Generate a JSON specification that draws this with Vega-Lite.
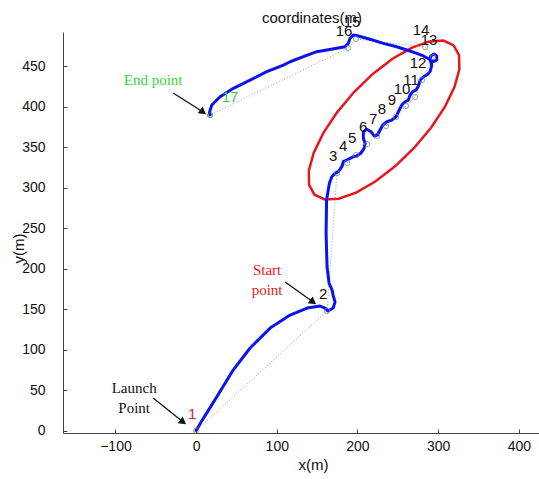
{
  "$schema": "https://vega.github.io/schema/vega-lite/v6.json",
  "width": 476,
  "height": 401,
  "autosize": {"type": "none"},
  "padding": {"left": 63, "top": 32, "right": 0, "bottom": 46},
  "background": "white",
  "title": {"text": "coordinates(m)", "anchor": "middle", "dx": 11, "dy": 20, "offset": 9, "font": "Liberation Sans", "fontSize": 15, "fontWeight": "normal", "color": "#111"},
  "config": {"view": {"stroke": null}},
  "datasets": {
    "traj": [
      {"i": 1, "x": 0, "y": 0}, {"i": 2, "x": 9.0, "y": 15.1}, {"i": 3, "x": 25.7, "y": 41.7}, {"i": 4, "x": 45.9, "y": 74.7},
      {"i": 5, "x": 66.9, "y": 101.9}, {"i": 6, "x": 91.7, "y": 126.5}, {"i": 7, "x": 116.5, "y": 142.6}, {"i": 8, "x": 137.6, "y": 151.2},
      {"i": 9, "x": 153.7, "y": 153.7}, {"i": 10, "x": 159.9, "y": 151.2}, {"i": 11, "x": 163.6, "y": 147.5}, {"i": 12, "x": 169.8, "y": 151.2},
      {"i": 13, "x": 172.2, "y": 158.6}, {"i": 14, "x": 169.8, "y": 167.3}, {"i": 15, "x": 168.5, "y": 173.5}, {"i": 16, "x": 164.8, "y": 182.1},
      {"i": 17, "x": 162.3, "y": 201.9}, {"i": 18, "x": 161.1, "y": 243.8}, {"i": 19, "x": 161.7, "y": 284.6}, {"i": 20, "x": 165.2, "y": 305.2},
      {"i": 21, "x": 168.2, "y": 313.3}, {"i": 22, "x": 172.2, "y": 317.5}, {"i": 23, "x": 176.3, "y": 319.5}, {"i": 24, "x": 180.6, "y": 325.7},
      {"i": 25, "x": 182.5, "y": 331.9}, {"i": 26, "x": 186.7, "y": 334.0}, {"i": 27, "x": 190.8, "y": 336.1}, {"i": 28, "x": 194.9, "y": 338.0},
      {"i": 29, "x": 199.1, "y": 338.9}, {"i": 30, "x": 204.1, "y": 342.2}, {"i": 31, "x": 208.2, "y": 348.4}, {"i": 32, "x": 209.4, "y": 354.6},
      {"i": 33, "x": 207.3, "y": 360.8}, {"i": 34, "x": 207.3, "y": 368.9}, {"i": 35, "x": 211.5, "y": 371.9}, {"i": 36, "x": 216.9, "y": 368.9},
      {"i": 37, "x": 220.6, "y": 363.6}, {"i": 38, "x": 224.7, "y": 364.8}, {"i": 39, "x": 228.0, "y": 371.0}, {"i": 40, "x": 231.4, "y": 377.2},
      {"i": 41, "x": 236.3, "y": 381.2}, {"i": 42, "x": 242.5, "y": 383.3}, {"i": 43, "x": 247.8, "y": 387.4}, {"i": 44, "x": 250.7, "y": 393.6},
      {"i": 45, "x": 254.9, "y": 401.9}, {"i": 46, "x": 259.0, "y": 405.9}, {"i": 47, "x": 263.1, "y": 408.0}, {"i": 48, "x": 265.2, "y": 414.2},
      {"i": 49, "x": 268.5, "y": 418.3}, {"i": 50, "x": 272.6, "y": 420.4}, {"i": 51, "x": 275.5, "y": 425.3}, {"i": 52, "x": 277.6, "y": 432.7},
      {"i": 53, "x": 281.7, "y": 436.8}, {"i": 54, "x": 285.9, "y": 438.9}, {"i": 55, "x": 290.0, "y": 443.0}, {"i": 56, "x": 292.1, "y": 451.2},
      {"i": 57, "x": 290.0, "y": 457.4}, {"i": 58, "x": 290.8, "y": 462.4}, {"i": 59, "x": 294.9, "y": 464.8}, {"i": 60, "x": 298.3, "y": 462.4},
      {"i": 61, "x": 298.3, "y": 457.4}, {"i": 62, "x": 294.1, "y": 455.3}, {"i": 63, "x": 288.7, "y": 458.7}, {"i": 64, "x": 281.7, "y": 462.4},
      {"i": 65, "x": 273.5, "y": 465.7}, {"i": 66, "x": 261.1, "y": 469.8}, {"i": 67, "x": 248.7, "y": 473.8}, {"i": 68, "x": 232.1, "y": 478.0},
      {"i": 69, "x": 215.6, "y": 483.0}, {"i": 70, "x": 201.1, "y": 487.0}, {"i": 71, "x": 194.9, "y": 488.3}, {"i": 72, "x": 190.8, "y": 484.2},
      {"i": 73, "x": 188.7, "y": 478.0}, {"i": 74, "x": 184.6, "y": 473.8}, {"i": 75, "x": 174.4, "y": 471.9}, {"i": 76, "x": 162.0, "y": 469.8},
      {"i": 77, "x": 149.6, "y": 467.7}, {"i": 78, "x": 133.0, "y": 461.5}, {"i": 79, "x": 116.5, "y": 455.3}, {"i": 80, "x": 108.2, "y": 451.2},
      {"i": 81, "x": 87.6, "y": 443.0}, {"i": 82, "x": 66.9, "y": 432.7}, {"i": 83, "x": 46.2, "y": 422.5}, {"i": 84, "x": 29.7, "y": 412.1},
      {"i": 85, "x": 19.5, "y": 401.9}, {"i": 86, "x": 16.5, "y": 392.8}, {"i": 87, "x": 17.3, "y": 389.5}
    ],
    "waypoints": [
      {"n": 1, "x": 0, "y": 0}, {"n": 2, "x": 162.3, "y": 147.5}, {"n": 3, "x": 174.7, "y": 317.9}, {"n": 4, "x": 187.1, "y": 330.3},
      {"n": 5, "x": 198.3, "y": 340.1}, {"n": 6, "x": 211.9, "y": 353.7}, {"n": 7, "x": 224.3, "y": 363.6}, {"n": 8, "x": 235.4, "y": 376.0},
      {"n": 9, "x": 247.8, "y": 387.1}, {"n": 10, "x": 260.2, "y": 400.7}, {"n": 11, "x": 271.4, "y": 411.8}, {"n": 12, "x": 280.1, "y": 432.7},
      {"n": 13, "x": 293.7, "y": 461.1}, {"n": 14, "x": 283.8, "y": 473.5}, {"n": 15, "x": 198.3, "y": 483.3}, {"n": 16, "x": 188.4, "y": 472.2},
      {"n": 17, "x": 17.3, "y": 389.5}
    ],
    "ellipse": [
      {"k": 0, "x": 319.2, "y": 475.4}, {"k": 1, "x": 325.9, "y": 463.3}, {"k": 2, "x": 326.3, "y": 445.8}, {"k": 3, "x": 320.2, "y": 424.0},
      {"k": 4, "x": 308.3, "y": 399.5}, {"k": 5, "x": 291.2, "y": 373.8}, {"k": 6, "x": 270.1, "y": 348.8}, {"k": 7, "x": 246.6, "y": 326.2},
      {"k": 8, "x": 222.1, "y": 307.4}, {"k": 9, "x": 198.3, "y": 293.8}, {"k": 10, "x": 176.8, "y": 286.3}, {"k": 11, "x": 159.4, "y": 285.3},
      {"k": 12, "x": 146.7, "y": 291.2}, {"k": 13, "x": 140.0, "y": 303.3}, {"k": 14, "x": 139.7, "y": 320.9}, {"k": 15, "x": 145.7, "y": 342.7},
      {"k": 16, "x": 157.6, "y": 367.2}, {"k": 17, "x": 174.7, "y": 392.8}, {"k": 18, "x": 195.8, "y": 417.9}, {"k": 19, "x": 219.3, "y": 440.5},
      {"k": 20, "x": 243.9, "y": 459.3}, {"k": 21, "x": 267.7, "y": 472.8}, {"k": 22, "x": 289.1, "y": 480.4}, {"k": 23, "x": 306.6, "y": 481.4},
      {"k": 24, "x": 319.2, "y": 475.4}
    ],
    "arrows": [
      {"name": "launch", "x": -53.3, "y": 40.1, "x2": -16.1, "y2": 10.5},
      {"name": "start", "x": 110.3, "y": 183.3, "x2": 145.0, "y2": 158.6},
      {"name": "end", "x": -28.5, "y": 416.7, "x2": 8.7, "y2": 393.2}
    ],
    "notes": [
      {"name": "launch", "text": "Launch\nPoint", "x": -76.8, "y": 52.5},
      {"name": "start", "text": "Start\npoint", "x": 88.0, "y": 198.1},
      {"name": "end", "text": "End point", "x": -53.3, "y": 432.7}
    ]
  },
  "encoding": {
    "x": {"field": "x", "type": "quantitative", "scale": {"domain": [-165, 425], "nice": false, "zero": false},
      "axis": {"title": "x(m)", "values": [-100, 0, 100, 200, 300, 400], "grid": false, "tickSize": -4, "labelPadding": 10,
        "domainColor": "#444", "tickColor": "#444", "labelFont": "Liberation Sans", "labelFontSize": 14, "labelColor": "#111",
        "titleFont": "Liberation Sans", "titleFontSize": 15, "titleFontWeight": "normal", "titleColor": "#111", "titleX": 250, "titlePadding": 4}},
    "y": {"field": "y", "type": "quantitative", "scale": {"domain": [-3, 492], "nice": false, "zero": false},
      "axis": {"title": "y(m)", "values": [0, 50, 100, 150, 200, 250, 300, 350, 400, 450], "grid": false, "tickSize": -4, "labelPadding": 22,
        "domainColor": "#444", "tickColor": "#444", "labelFont": "Liberation Sans", "labelFontSize": 14, "labelColor": "#111",
        "titleFont": "Liberation Sans", "titleFontSize": 15, "titleFontWeight": "normal", "titleColor": "#111", "titlePadding": -5, "titleY": 216}}
  },
  "layer": [
    {
      "data": {"name": "ellipse"},
      "mark": {"type": "line", "color": "#e8161b", "strokeWidth": 2.5},
      "encoding": {"order": {"field": "k", "type": "quantitative"}}
    },
    {
      "data": {"name": "waypoints"},
      "mark": {"type": "line", "color": "#9a9a9a", "strokeWidth": 1, "strokeDash": [1, 2]},
      "encoding": {"order": {"field": "n", "type": "quantitative"}}
    },
    {
      "data": {"name": "traj"},
      "mark": {"type": "line", "color": "#0b12f0", "strokeWidth": 3, "strokeJoin": "round", "strokeCap": "round"},
      "encoding": {"order": {"field": "i", "type": "quantitative"}}
    },
    {
      "data": {"name": "waypoints"},
      "mark": {"type": "point", "filled": false, "size": 28, "strokeWidth": 1},
      "encoding": {
        "color": {"condition": [{"test": "datum.n == 1", "value": "#d05050"}, {"test": "datum.n == 17", "value": "#207a20"}], "value": "#6f7fa6"}
      }
    },
    {
      "data": {"name": "waypoints"},
      "transform": [{"filter": "datum.n != 17"}],
      "mark": {"type": "text", "font": "Liberation Sans", "fontSize": 15, "dx": -4, "dy": -17, "align": "center", "baseline": "middle"},
      "encoding": {
        "text": {"field": "n", "type": "nominal"},
        "color": {"condition": {"test": "datum.n == 1", "value": "#e0191b"}, "value": "#111111"}
      }
    },
    {
      "data": {"name": "waypoints"},
      "transform": [{"filter": "datum.n == 17"}],
      "mark": {"type": "text", "font": "Liberation Sans", "fontSize": 15, "dx": 20, "dy": -18, "align": "center", "baseline": "middle", "color": "#33cc33"},
      "encoding": {"text": {"field": "n", "type": "nominal"}}
    },
    {
      "data": {"name": "arrows"},
      "mark": {"type": "rule", "color": "#111", "strokeWidth": 1.3},
      "encoding": {"x2": {"field": "x2"}, "y2": {"field": "y2"}}
    },
    {
      "data": {"name": "arrows"},
      "mark": {"type": "point", "shape": "triangle-right", "filled": true, "color": "#111", "size": 70, "angle": 36, "opacity": 1},
      "encoding": {"x": {"field": "x2", "type": "quantitative"}, "y": {"field": "y2", "type": "quantitative"}}
    },
    {
      "data": {"name": "notes"},
      "mark": {"type": "text", "font": "Liberation Serif", "fontSize": 15, "align": "center", "baseline": "middle", "lineBreak": "\n", "lineHeight": 20},
      "encoding": {
        "text": {"field": "text", "type": "nominal"},
        "color": {"field": "name", "type": "nominal", "scale": {"domain": ["launch", "start", "end"], "range": ["#111111", "#e8191c", "#3ad63a"]}, "legend": null}
      }
    }
  ]
}
